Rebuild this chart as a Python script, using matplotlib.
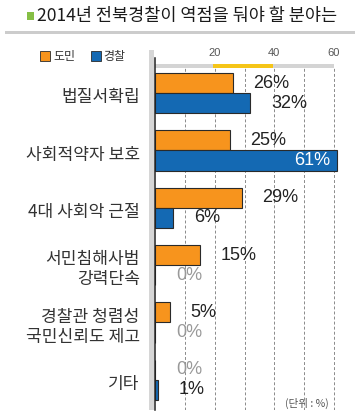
import matplotlib
matplotlib.use("Agg")
import matplotlib.pyplot as plt
from matplotlib.patches import Rectangle
from matplotlib.lines import Line2D

# ---- data ----
categories = ["법질서확립", "사회적약자 보호", "4대 사회악 근절", "서민침해사범\n강력단속",
              "경찰관 청렴성\n국민신뢰도 제고", "기타"]
citizens = [26, 25, 29, 15, 5, 0]   # 도민
police = [32, 61, 6, 0, 0, 1]       # 경찰
series_names = ["도민", "경찰"]
xticks = [20, 40, 60]
title = "2014년 전북경찰이 역점을 둬야 할 분야는"
unit_note = "(단위 : %)"

ORANGE = "#F7941D"
BLUE = "#1469B3"
EDGE = "#2a2a2a"
KR = ["Noto Sans CJK KR", "DejaVu Sans"]
NUM = ["Liberation Sans", "Noto Sans CJK KR"]

W, H = 359, 418
fig = plt.figure(figsize=(W / 100, H / 100), dpi=100)
fig.patch.set_facecolor("white")

def fx(px):
    return px / W

def fy(py):
    return 1 - py / H

# axes: x0=155px, top=68px, bottom=410px
ax_left, ax_top, ax_bot = 155, 68, 410
ax = fig.add_axes([fx(ax_left), fy(ax_bot), 1 - fx(ax_left), (ax_bot - ax_top) / H])
ax.set_facecolor("none")
px_per_unit = (334 - 155) / 60
ax.set_xlim(0, (W - ax_left) / px_per_unit)
ax.set_ylim(5 + (410 - 380) / 57, -(93 - 68) / 57)

for s in ax.spines.values():
    s.set_visible(False)

# grid
for g in range(10, 61, 10):
    ax.axvline(g, color="#8a8a8a", lw=0.7, ls=(0, (3, 2.2)), zorder=0)

h = 20 / 57
ys = list(range(len(categories)))
ax.barh([y - h / 2 for y in ys], citizens, height=h, color=ORANGE, edgecolor=EDGE, lw=0.8, zorder=3)
ax.barh([y + h / 2 for y in ys], police, height=h, color=BLUE, edgecolor=EDGE, lw=0.8, zorder=3)

# value labels
def vlabel(v, y):
    if v >= 50:
        ax.annotate(f"{v}%", (v, y), xytext=(-5, 0), textcoords="offset points",
                    ha="right", va="center", fontsize=13, color="white", family=NUM, zorder=5)
    else:
        col = "#999999" if v == 0 else "#222222"
        ax.annotate(f"{v}%", (v, y), xytext=(15, 0), textcoords="offset points",
                    ha="left", va="center", fontsize=13, color=col, family=NUM, zorder=5)

for y, v in zip(ys, citizens):
    vlabel(v, y - h / 2)
for y, v in zip(ys, police):
    vlabel(v, y + h / 2)

# category labels
ax.set_yticks([])
for y, c in zip(ys, categories):
    ax.annotate(c, (0, y), xytext=(-11, -3), textcoords="offset points", ha="right",
                multialignment="right", va="center", fontsize=12.3, color="#333333", family=KR,
                linespacing=1.13, annotation_clip=False)

# top ticks
ax.xaxis.tick_top()
ax.set_xticks(xticks)
ax.set_xticklabels([str(t) for t in xticks], fontsize=8, color="#555555", family=NUM)
ax.tick_params(axis="x", length=0, pad=7)

# grey bar with yellow segment above axes
tr = ax.get_xaxis_transform()
bh = 4 / (ax_bot - ax_top)
ax.add_patch(Rectangle((0, 1), 60, bh, transform=tr, color="#d4d4d4", clip_on=False, lw=0))
ax.add_patch(Rectangle((19.5, 1), 20, bh, transform=tr, color="#F5C518", clip_on=False, lw=0))

# left grey band & spine
fig.add_artist(Rectangle((fx(149), fy(410)), fx(5), (410 - 50) / H, transform=fig.transFigure,
                         color="#d6d6d6", lw=0))
fig.add_artist(Line2D([fx(154.5), fx(154.5)], [fy(58), fy(410)], transform=fig.transFigure,
                      color="#222222", lw=1.1))

# title
fig.add_artist(Rectangle((fx(27), fy(20)), fx(7), 8 / H, transform=fig.transFigure,
                         color="#86BF45", lw=0))
fig.text(fx(37), fy(16), title, fontsize=12.6, color="#1a1a1a", family=KR, weight="medium",
         ha="left", va="center")
fig.add_artist(Rectangle((fx(5), fy(34)), fx(350), 3 / H, transform=fig.transFigure,
                         color="#cccccc", lw=0))

# legend
fig.add_artist(Rectangle((fx(40), fy(61)), fx(10), 10 / H, transform=fig.transFigure,
                         facecolor=ORANGE, edgecolor=EDGE, lw=0.6))
fig.text(fx(53), fy(56.5), series_names[0], fontsize=8.6, color="#333333", family=KR, ha="left", va="center")
fig.add_artist(Rectangle((fx(90.5), fy(61)), fx(10), 10 / H, transform=fig.transFigure,
                         facecolor=BLUE, edgecolor=EDGE, lw=0.6))
fig.text(fx(103), fy(56.5), series_names[1], fontsize=8.6, color="#333333", family=KR, ha="left", va="center")

# unit note
fig.text(fx(329), fy(403), unit_note, fontsize=7.6, color="#555555", family=KR, ha="right", va="center")

fig.savefig("out.png", dpi=100, facecolor="white")
